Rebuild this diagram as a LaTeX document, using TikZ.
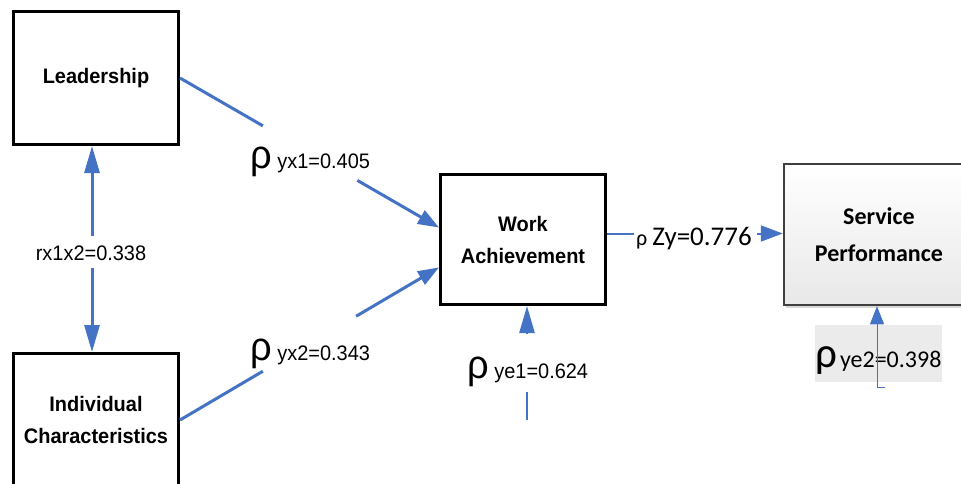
\documentclass[tikz,border=0pt]{standalone}
\usepackage{fontspec}
\setmainfont[FakeStretch=0.95]{Liberation Sans}
\newfontfamily\calibfont{Carlito}
\usetikzlibrary{arrows.meta,calc,shadows}
\definecolor{pathblue}{HTML}{4472C4}
\definecolor{sbox}{HTML}{3F3F3F}
\definecolor{labelgray}{HTML}{EBEBEB}
\newcommand{\bigrho}{{\fontsize{40}{40}\selectfont ρ}}
\tikzset{
  varbox/.style={draw=black, line width=3pt, minimum width=165pt, minimum height=133pt,
    inner sep=0pt, align=center, font=\fontsize{21}{32}\selectfont\bfseries},
  conn/.style={draw=pathblue, line width=3pt},
  bigtip/.style={-{Triangle[length=27pt,width=15pt]}},
  midtip/.style={-{Triangle[length=21pt,width=15pt]}},
  coef/.style={anchor=base west, inner sep=0pt, font=\fontsize{21}{21}\selectfont},
}
\begin{document}
\begin{tikzpicture}[x=1pt,y=-1pt]
\useasboundingbox (0,0) rectangle (961,484);
\clip (0,0) rectangle (961,484);

% variable boxes
\node[varbox] (L) at (96,78) {Leadership};
\node[varbox] (I) at (96,420) {Individual\\Characteristics};
\node[varbox, minimum height=130pt] (W) at (523,239.5) {Work\\Achievement};
\node[draw=sbox, line width=2.5pt, minimum width=190pt, minimum height=141pt,
  top color=white, bottom color=black!9, drop shadow={shadow xshift=1.5pt, shadow yshift=-3pt, fill=black!25, opacity=0.6},
  inner sep=0pt, align=center, font=\calibfont\fontsize{24}{37}\selectfont\bfseries]
  (S) at (879,234.5) {Service\\Performance};

% entry points on the Work Achievement box
\coordinate (wa1) at ($(W.north west)!0.41!(W.south west)$);
\coordinate (wa2) at ($(W.north west)!0.71!(W.south west)$);

% Leadership -> Work Achievement
\draw[conn] (L.east) -- ($(L.east)!0.32!(wa1)$);
\draw[conn, midtip] ($(L.east)!0.685!(wa1)$) -- (wa1);
\node[coef] (c1) at (250,168) {\bigrho\ yx1=0.405};

% Individual Characteristics -> Work Achievement
\draw[conn] (I.east) -- ($(I.east)!0.32!(wa2)$);
\draw[conn, midtip] ($(I.east)!0.68!(wa2)$) -- (wa2);
\node[coef] (c2) at (250,360) {\bigrho\ yx2=0.343};

% correlation between the two exogenous variables
\coordinate (lb) at ($(L.south)+(-4,0)$);
\coordinate (it) at ($(I.north)+(-4,0)$);
\draw[conn, bigtip] ($(lb)!0.437!(it)$) -- (lb);
\draw[conn, bigtip] ($(lb)!0.592!(it)$) -- (it);
\node[anchor=base, inner sep=0pt, font=\fontsize{21}{21}\selectfont] (r12) at (91,260) {rx1x2=0.338};

% Work Achievement -> Service Performance
\coordinate (we) at ($(W.east)+(0,-6)$);
\coordinate (sw) at (S.west |- we);
\draw[conn, line width=2pt] (we) -- ++(27,0);
\draw[conn, line width=2pt, -{Triangle[length=22pt,width=16pt]}] ($(sw)+(-26,0)$) -- (sw);
\node[anchor=base west, inner sep=0pt, font=\calibfont] (cz) at (636,245)
  {{\fontsize{22}{22}\selectfont ρ}\hspace{5pt}{\fontsize{27}{27}\selectfont Zy=0.776}};

% residual on Work Achievement
\coordinate (e1) at (527,420);
\draw[conn, line width=2.5pt] (e1) -- ++(0,-28);
\draw[conn, line width=2.5pt, bigtip] ($(W.south -| e1)+(0,28)$) -- (W.south -| e1);
\node[coef] (c3) at (467,378) {\bigrho\ ye1=0.624};

% residual on Service Performance
\fill[labelgray] (815,325) rectangle (942,382);
\node[anchor=base west, inner sep=0pt, font=\calibfont] (c4) at (815,367)
  {{\fontsize{43}{43}\selectfont ρ}\hspace{3pt}{\fontsize{24}{24}\selectfont ye2=0.398}};
\coordinate (e2) at (877,387);
\draw[draw=pathblue, line width=1pt, -{Triangle[length=18pt,width=14pt]}] (e2) -- (S.south -| e2);
\draw[draw=pathblue, line width=1pt] (e2) -- ++(8,0);
\end{tikzpicture}
\end{document}
